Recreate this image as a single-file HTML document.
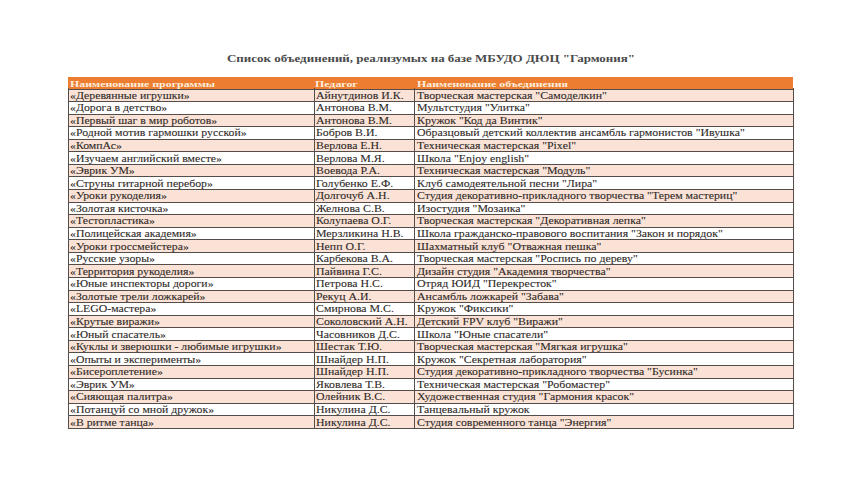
<!DOCTYPE html>
<html><head><meta charset="utf-8"><title>Список объединений</title>
<style>
html,body{margin:0;padding:0;background:#fff;}
body{width:857px;height:496px;position:relative;overflow:hidden;font-family:"Liberation Serif","Noto Serif CJK SC",serif;}
#w{position:absolute;left:0;top:0;width:857px;height:496px;background:#fff;}
.t{position:absolute;white-space:nowrap;transform-origin:0 0;line-height:1;}
.b{font-size:9.3px;color:#2e2926;-webkit-text-stroke:0.08px #2e2926;transform:scaleX(1.345);}
.h{font-size:9.2px;color:#fdeedd;font-weight:bold;transform:scaleX(1.294);}
.ttl{font-size:11.0px;color:#4a4a4a;font-weight:bold;transform:scaleX(1.18);}
.r{position:absolute;left:68.0px;width:725.3px;}
.hl{position:absolute;height:1.0px;background:#554d4a;left:67.5px;width:726.3px;}
.vl{position:absolute;width:1.0px;background:#554d4a;}
</style></head><body><div id="w">
<div class="t ttl" style="left:227.3px;top:53.29px">Список объединений, реализумых на базе МБУДО ДЮЦ "Гармония"</div>
<div class="r" style="top:76.9px;height:12.099999999999994px;background:#ed7d31"></div>
<div class="t h" style="left:69.6px;top:79.70px">Наименование программы</div>
<div class="t h" style="left:315.4px;top:79.70px">Педагог</div>
<div class="t h" style="left:416.9px;top:79.70px">Наименование объединения</div>
<div class="r" style="top:88.95px;height:12.57px;background:#fae2d6"></div>
<div class="r" style="top:114.09px;height:12.57px;background:#fae2d6"></div>
<div class="r" style="top:139.23px;height:12.57px;background:#fae2d6"></div>
<div class="r" style="top:164.37px;height:12.57px;background:#fae2d6"></div>
<div class="r" style="top:189.51px;height:12.57px;background:#fae2d6"></div>
<div class="r" style="top:214.65px;height:12.57px;background:#fae2d6"></div>
<div class="r" style="top:239.79px;height:12.57px;background:#fae2d6"></div>
<div class="r" style="top:264.93px;height:12.57px;background:#fae2d6"></div>
<div class="r" style="top:290.07px;height:12.57px;background:#fae2d6"></div>
<div class="r" style="top:315.21px;height:12.57px;background:#fae2d6"></div>
<div class="r" style="top:340.35px;height:12.57px;background:#fae2d6"></div>
<div class="r" style="top:365.49px;height:12.57px;background:#fae2d6"></div>
<div class="r" style="top:390.63px;height:12.57px;background:#fae2d6"></div>
<div class="r" style="top:415.77px;height:12.57px;background:#fae2d6"></div>
<div class="hl" style="top:89.00px"></div>
<div class="hl" style="top:101.02px"></div>
<div class="hl" style="top:113.59px"></div>
<div class="hl" style="top:126.16px"></div>
<div class="hl" style="top:138.73px"></div>
<div class="hl" style="top:151.30px"></div>
<div class="hl" style="top:163.87px"></div>
<div class="hl" style="top:176.44px"></div>
<div class="hl" style="top:189.01px"></div>
<div class="hl" style="top:201.58px"></div>
<div class="hl" style="top:214.15px"></div>
<div class="hl" style="top:226.72px"></div>
<div class="hl" style="top:239.29px"></div>
<div class="hl" style="top:251.86px"></div>
<div class="hl" style="top:264.43px"></div>
<div class="hl" style="top:277.00px"></div>
<div class="hl" style="top:289.57px"></div>
<div class="hl" style="top:302.14px"></div>
<div class="hl" style="top:314.71px"></div>
<div class="hl" style="top:327.28px"></div>
<div class="hl" style="top:339.85px"></div>
<div class="hl" style="top:352.42px"></div>
<div class="hl" style="top:364.99px"></div>
<div class="hl" style="top:377.56px"></div>
<div class="hl" style="top:390.13px"></div>
<div class="hl" style="top:402.70px"></div>
<div class="hl" style="top:415.27px"></div>
<div class="hl" style="top:427.84px"></div>
<div class="vl" style="left:67.50px;top:88.45px;height:340.39px"></div>
<div class="vl" style="left:313.80px;top:88.45px;height:340.39px"></div>
<div class="vl" style="left:413.90px;top:88.45px;height:340.39px"></div>
<div class="vl" style="left:792.80px;top:88.45px;height:340.39px"></div>
<div class="t b" style="left:69.8px;top:91.76px;transform:scaleX(1.2661)">«Деревянные игрушки»</div>
<div class="t b" style="left:315.9px;top:91.76px;transform:scaleX(1.2727)">Айнутдинов И.К.</div>
<div class="t b" style="left:417.0px;top:91.76px;transform:scaleX(1.2727)">Творческая мастерская "Самоделкин"</div>
<div class="t b" style="left:69.8px;top:104.33px;transform:scaleX(1.2661)">«Дорога в детство»</div>
<div class="t b" style="left:315.9px;top:104.33px;transform:scaleX(1.2727)">Антонова В.М.</div>
<div class="t b" style="left:417.0px;top:104.33px;transform:scaleX(1.2727)">Мультстудия "Улитка"</div>
<div class="t b" style="left:69.8px;top:116.90px;transform:scaleX(1.2661)">«Первый шаг в мир роботов»</div>
<div class="t b" style="left:315.9px;top:116.90px;transform:scaleX(1.2727)">Антонова В.М.</div>
<div class="t b" style="left:417.0px;top:116.90px;transform:scaleX(1.2727)">Кружок "Код да Винтик"</div>
<div class="t b" style="left:69.8px;top:129.47px;transform:scaleX(1.2661)">«Родной мотив гармошки русской»</div>
<div class="t b" style="left:315.9px;top:129.47px;transform:scaleX(1.2727)">Бобров В.И.</div>
<div class="t b" style="left:417.0px;top:129.47px;transform:scaleX(1.2727)">Образцовый детский коллектив ансамбль гармонистов "Ивушка"</div>
<div class="t b" style="left:69.8px;top:142.04px;transform:scaleX(1.2661)">«КомпАс»</div>
<div class="t b" style="left:315.9px;top:142.04px;transform:scaleX(1.2727)">Верлова Е.Н.</div>
<div class="t b" style="left:417.0px;top:142.04px;transform:scaleX(1.2727)">Техническая мастерская "Pixel"</div>
<div class="t b" style="left:69.8px;top:154.61px;transform:scaleX(1.2661)">«Изучаем английский вместе»</div>
<div class="t b" style="left:315.9px;top:154.61px;transform:scaleX(1.2727)">Верлова М.Я.</div>
<div class="t b" style="left:417.0px;top:154.61px;transform:scaleX(1.2727)">Школа "Enjoy english"</div>
<div class="t b" style="left:69.8px;top:167.18px;transform:scaleX(1.2661)">«Эврик УМ»</div>
<div class="t b" style="left:315.9px;top:167.18px;transform:scaleX(1.2727)">Воевода Р.А.</div>
<div class="t b" style="left:417.0px;top:167.18px;transform:scaleX(1.2727)">Техническая мастерская "Модуль"</div>
<div class="t b" style="left:69.8px;top:179.75px;transform:scaleX(1.2661)">«Струны гитарной перебор»</div>
<div class="t b" style="left:315.9px;top:179.75px;transform:scaleX(1.2727)">Голубенко Е.Ф.</div>
<div class="t b" style="left:417.0px;top:179.75px;transform:scaleX(1.2727)">Клуб самодеятельной песни "Лира"</div>
<div class="t b" style="left:69.8px;top:192.32px;transform:scaleX(1.2661)">«Уроки рукоделия»</div>
<div class="t b" style="left:315.9px;top:192.32px;transform:scaleX(1.2727)">Долгочуб А.Н.</div>
<div class="t b" style="left:417.0px;top:192.32px;transform:scaleX(1.2727)">Студия декоративно-прикладного творчества "Терем мастериц"</div>
<div class="t b" style="left:69.8px;top:204.89px;transform:scaleX(1.2661)">«Золотая кисточка»</div>
<div class="t b" style="left:315.9px;top:204.89px;transform:scaleX(1.2727)">Желнова С.В.</div>
<div class="t b" style="left:417.0px;top:204.89px;transform:scaleX(1.2727)">Изостудия "Мозаика"</div>
<div class="t b" style="left:69.8px;top:217.46px;transform:scaleX(1.2661)">«Тестопластика»</div>
<div class="t b" style="left:315.9px;top:217.46px;transform:scaleX(1.2727)">Колупаева О.Г.</div>
<div class="t b" style="left:417.0px;top:217.46px;transform:scaleX(1.2727)">Творческая мастерская "Декоративная лепка"</div>
<div class="t b" style="left:69.8px;top:230.03px;transform:scaleX(1.2661)">«Полицейская академия»</div>
<div class="t b" style="left:315.9px;top:230.03px;transform:scaleX(1.2727)">Мерзликина Н.В.</div>
<div class="t b" style="left:417.0px;top:230.03px;transform:scaleX(1.2727)">Школа гражданско-правового воспитания "Закон и порядок"</div>
<div class="t b" style="left:69.8px;top:242.60px;transform:scaleX(1.2661)">«Уроки гроссмейстера»</div>
<div class="t b" style="left:315.9px;top:242.60px;transform:scaleX(1.2727)">Непп О.Г.</div>
<div class="t b" style="left:417.0px;top:242.60px;transform:scaleX(1.2727)">Шахматный клуб "Отважная пешка"</div>
<div class="t b" style="left:69.8px;top:255.17px;transform:scaleX(1.2661)">«Русские узоры»</div>
<div class="t b" style="left:315.9px;top:255.17px;transform:scaleX(1.2727)">Карбекова В.А.</div>
<div class="t b" style="left:417.0px;top:255.17px;transform:scaleX(1.2727)">Творческая мастерская "Роспись по дереву"</div>
<div class="t b" style="left:69.8px;top:267.74px;transform:scaleX(1.2661)">«Территория рукоделия»</div>
<div class="t b" style="left:315.9px;top:267.74px;transform:scaleX(1.2727)">Пайвина Г.С.</div>
<div class="t b" style="left:417.0px;top:267.74px;transform:scaleX(1.2727)">Дизайн студия "Академия творчества"</div>
<div class="t b" style="left:69.8px;top:280.31px;transform:scaleX(1.2661)">«Юные инспекторы дороги»</div>
<div class="t b" style="left:315.9px;top:280.31px;transform:scaleX(1.2727)">Петрова Н.С.</div>
<div class="t b" style="left:417.0px;top:280.31px;transform:scaleX(1.2727)">Отряд ЮИД "Перекресток"</div>
<div class="t b" style="left:69.8px;top:292.88px;transform:scaleX(1.2661)">«Золотые трели ложкарей»</div>
<div class="t b" style="left:315.9px;top:292.88px;transform:scaleX(1.2727)">Рекуц А.И.</div>
<div class="t b" style="left:417.0px;top:292.88px;transform:scaleX(1.2727)">Ансамбль ложкарей "Забава"</div>
<div class="t b" style="left:69.8px;top:305.45px;transform:scaleX(1.2661)">«LEGO-мастера»</div>
<div class="t b" style="left:315.9px;top:305.45px;transform:scaleX(1.2727)">Смирнова М.С.</div>
<div class="t b" style="left:417.0px;top:305.45px;transform:scaleX(1.2727)">Кружок "Фиксики"</div>
<div class="t b" style="left:69.8px;top:318.02px;transform:scaleX(1.2661)">«Крутые виражи»</div>
<div class="t b" style="left:315.9px;top:318.02px;transform:scaleX(1.2727)">Соколовский А.Н.</div>
<div class="t b" style="left:417.0px;top:318.02px;transform:scaleX(1.2727)">Детский FPV клуб "Виражи"</div>
<div class="t b" style="left:69.8px;top:330.59px;transform:scaleX(1.2661)">«Юный спасатель»</div>
<div class="t b" style="left:315.9px;top:330.59px;transform:scaleX(1.2727)">Часовников Д.С.</div>
<div class="t b" style="left:417.0px;top:330.59px;transform:scaleX(1.2727)">Школа "Юные спасатели"</div>
<div class="t b" style="left:69.8px;top:343.16px;transform:scaleX(1.2661)">«Куклы и зверюшки - любимые игрушки»</div>
<div class="t b" style="left:315.9px;top:343.16px;transform:scaleX(1.2727)">Шестак Т.Ю.</div>
<div class="t b" style="left:417.0px;top:343.16px;transform:scaleX(1.2727)">Творческая мастерская "Мягкая игрушка"</div>
<div class="t b" style="left:69.8px;top:355.73px;transform:scaleX(1.2661)">«Опыты и эксперименты»</div>
<div class="t b" style="left:315.9px;top:355.73px;transform:scaleX(1.2727)">Шнайдер Н.П.</div>
<div class="t b" style="left:417.0px;top:355.73px;transform:scaleX(1.2727)">Кружок "Секретная лаборатория"</div>
<div class="t b" style="left:69.8px;top:368.30px;transform:scaleX(1.2661)">«Бисероплетение»</div>
<div class="t b" style="left:315.9px;top:368.30px;transform:scaleX(1.2727)">Шнайдер Н.П.</div>
<div class="t b" style="left:417.0px;top:368.30px;transform:scaleX(1.2727)">Студия декоративно-прикладного творчества "Бусинка"</div>
<div class="t b" style="left:69.8px;top:380.87px;transform:scaleX(1.2661)">«Эврик УМ»</div>
<div class="t b" style="left:315.9px;top:380.87px;transform:scaleX(1.2727)">Яковлева Т.В.</div>
<div class="t b" style="left:417.0px;top:380.87px;transform:scaleX(1.2727)">Техническая мастерская "Робомастер"</div>
<div class="t b" style="left:69.8px;top:393.44px;transform:scaleX(1.2661)">«Сияющая палитра»</div>
<div class="t b" style="left:315.9px;top:393.44px;transform:scaleX(1.2727)">Олейник В.С.</div>
<div class="t b" style="left:417.0px;top:393.44px;transform:scaleX(1.2727)">Художественная студия "Гармония красок"</div>
<div class="t b" style="left:69.8px;top:406.01px;transform:scaleX(1.2661)">«Потанцуй со мной дружок»</div>
<div class="t b" style="left:315.9px;top:406.01px;transform:scaleX(1.2727)">Никулина Д.С.</div>
<div class="t b" style="left:417.0px;top:406.01px;transform:scaleX(1.2727)">Танцевальный кружок</div>
<div class="t b" style="left:69.8px;top:418.58px;transform:scaleX(1.2661)">«В ритме танца»</div>
<div class="t b" style="left:315.9px;top:418.58px;transform:scaleX(1.2727)">Никулина Д.С.</div>
<div class="t b" style="left:417.0px;top:418.58px;transform:scaleX(1.2727)">Студия современного танца "Энергия"</div>
</div></body></html>
